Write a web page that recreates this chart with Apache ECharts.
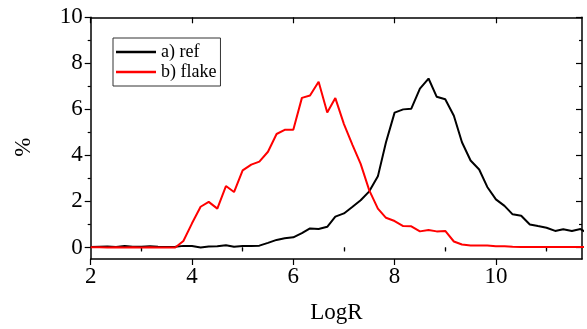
<!DOCTYPE html>
<html>
<head>
<meta charset="utf-8">
<script src="https://cdn.jsdelivr.net/npm/echarts@6/dist/echarts.min.js"></script>
<style>html,body{margin:0;padding:0;background:#fff}#c{width:587px;height:329px}</style>
</head>
<body>
<div id="c"></div>
<script>
const logR = [2, 2.17, 2.33, 2.5, 2.67, 2.83,
  3, 3.17, 3.33, 3.5, 3.67, 3.83,
  4, 4.17, 4.33, 4.5, 4.67, 4.83,
  5, 5.17, 5.33, 5.5, 5.67, 5.83,
  6, 6.17, 6.33, 6.5, 6.67, 6.83,
  7, 7.17, 7.33, 7.5, 7.67, 7.83,
  8, 8.17, 8.33, 8.5, 8.67, 8.83,
  9, 9.17, 9.33, 9.5, 9.67, 9.83,
  10, 10.17, 10.33, 10.5, 10.67, 10.83,
  11, 11.17, 11.33, 11.5, 11.67, 11.83];
const refValues = [0.02, 0.03, 0.04, 0.02, 0.06, 0.03,
  0.03, 0.05, 0.03, 0.02, 0.03, 0.07,
  0.06, 0.0, 0.04, 0.05, 0.1, 0.03,
  0.06, 0.06, 0.08, 0.2, 0.33, 0.4,
  0.44, 0.62, 0.83, 0.8, 0.9, 1.34,
  1.48, 1.77, 2.05, 2.44, 3.09, 4.57,
  5.86, 6.0, 6.03, 6.9, 7.34, 6.55,
  6.44, 5.72, 4.57, 3.78, 3.39, 2.63,
  2.09, 1.81, 1.44, 1.38, 1.0, 0.93,
  0.86, 0.72, 0.79, 0.72, 0.8, 0.6];
const flakeValues = [0.01, 0.01, 0.0, 0.01, 0.0, 0.01,
  0.0, 0.01, 0.0, 0.0, 0.0, 0.28,
  1.05, 1.77, 1.98, 1.69, 2.67, 2.41,
  3.35, 3.6, 3.73, 4.16, 4.93, 5.11,
  5.11, 6.5, 6.6, 7.2, 5.86, 6.49,
  5.36, 4.45, 3.63, 2.48, 1.69, 1.29,
  1.15, 0.93, 0.92, 0.7, 0.76, 0.7,
  0.72, 0.26, 0.13, 0.09, 0.09, 0.09,
  0.05, 0.05, 0.03, 0.02, 0.02, 0.02,
  0.02, 0.02, 0.02, 0.02, 0.02, 0.02];
const seriesNames = ['a) ref', 'b) flake'];
const xMajor = [2, 4, 6, 8, 10];
const xMinor = [3, 5, 7, 9, 11];
const yMajor = [0, 2, 4, 6, 8, 10];
const yMinor = [1, 3, 5, 7, 9];

const FONT = 'Liberation Serif';
const X_MIN = 2, X_MAX = 11.7, Y_MIN = -0.5, Y_MAX = 10;
const axisLine = { show: true, onZero: false, lineStyle: { color: '#000', width: 1.5 } };

function xAx(pos, vals, len, inside, labels, line) {
  return {
    type: 'value', position: pos, min: X_MIN, max: X_MAX,
    axisLine: line ? axisLine : { show: false },
    splitLine: { show: false },
    axisTick: { show: true, inside: inside, length: len, customValues: vals, lineStyle: { color: '#000', width: 1.2 } },
    axisLabel: labels ? { show: true, customValues: vals, fontFamily: FONT, fontSize: 23, color: '#000', margin: 6 } : { show: false }
  };
}
function yAx(pos, vals, len, inside, labels, line) {
  return {
    type: 'value', position: pos, min: Y_MIN, max: Y_MAX,
    axisLine: line ? axisLine : { show: false },
    splitLine: { show: false },
    axisTick: { show: true, inside: inside, length: len, customValues: vals, lineStyle: { color: '#000', width: 1.2 } },
    axisLabel: labels ? { show: true, customValues: vals, fontFamily: FONT, fontSize: 23, color: '#000', margin: 8 } : { show: false }
  };
}

const xAxes = [
  Object.assign(xAx('bottom', xMajor, 6, false, true, true), {
    name: 'LogR', nameLocation: 'middle', nameGap: 42,
    nameTextStyle: { fontFamily: FONT, fontSize: 23, color: '#000' }
  }),
  xAx('bottom', xMinor, 4, false, false, false),
  xAx('top', xMajor, 6, true, false, true),
  xAx('top', xMinor, 3, true, false, false)
];
const yAxes = [
  Object.assign(yAx('left', yMajor, 6, false, true, true), {
    name: '%', nameLocation: 'middle', nameGap: 55,
    nameTextStyle: { fontFamily: FONT, fontSize: 23, color: '#000', padding: [0, 18, 0, 0] }
  }),
  yAx('left', yMinor, 3, false, false, false),
  yAx('right', yMajor, 6, true, false, true),
  yAx('right', yMinor, 3, true, false, false)
];

const chart = echarts.init(document.getElementById('c'), null, { renderer: 'canvas' });
chart.setOption({
  animation: false,
  backgroundColor: '#fff',
  grid: { left: 90.7, right: 5, top: 17.3, bottom: 68.3, containLabel: false },
  xAxis: xAxes,
  yAxis: yAxes,
  legend: {
    orient: 'vertical', left: 113, top: 38,
    padding: [5, 4, 5, 3], itemGap: 2, itemWidth: 40, itemHeight: 2.5,
    icon: 'rect',
    borderColor: '#333', borderWidth: 1,
    textStyle: { fontFamily: FONT, fontSize: 18, color: '#000', lineHeight: 18 },
    data: seriesNames
  },
  series: [
    { name: seriesNames[0], type: 'line', xAxisIndex: 0, yAxisIndex: 0, symbol: 'none',
      lineStyle: { color: '#000', width: 2 }, itemStyle: { color: '#000' },
      data: logR.map((x, i) => [x, refValues[i]]) },
    { name: seriesNames[1], type: 'line', xAxisIndex: 0, yAxisIndex: 0, symbol: 'none',
      lineStyle: { color: '#ff0000', width: 2 }, itemStyle: { color: '#ff0000' },
      data: logR.map((x, i) => [x, flakeValues[i]]) }
  ]
});
</script>
</body>
</html>
